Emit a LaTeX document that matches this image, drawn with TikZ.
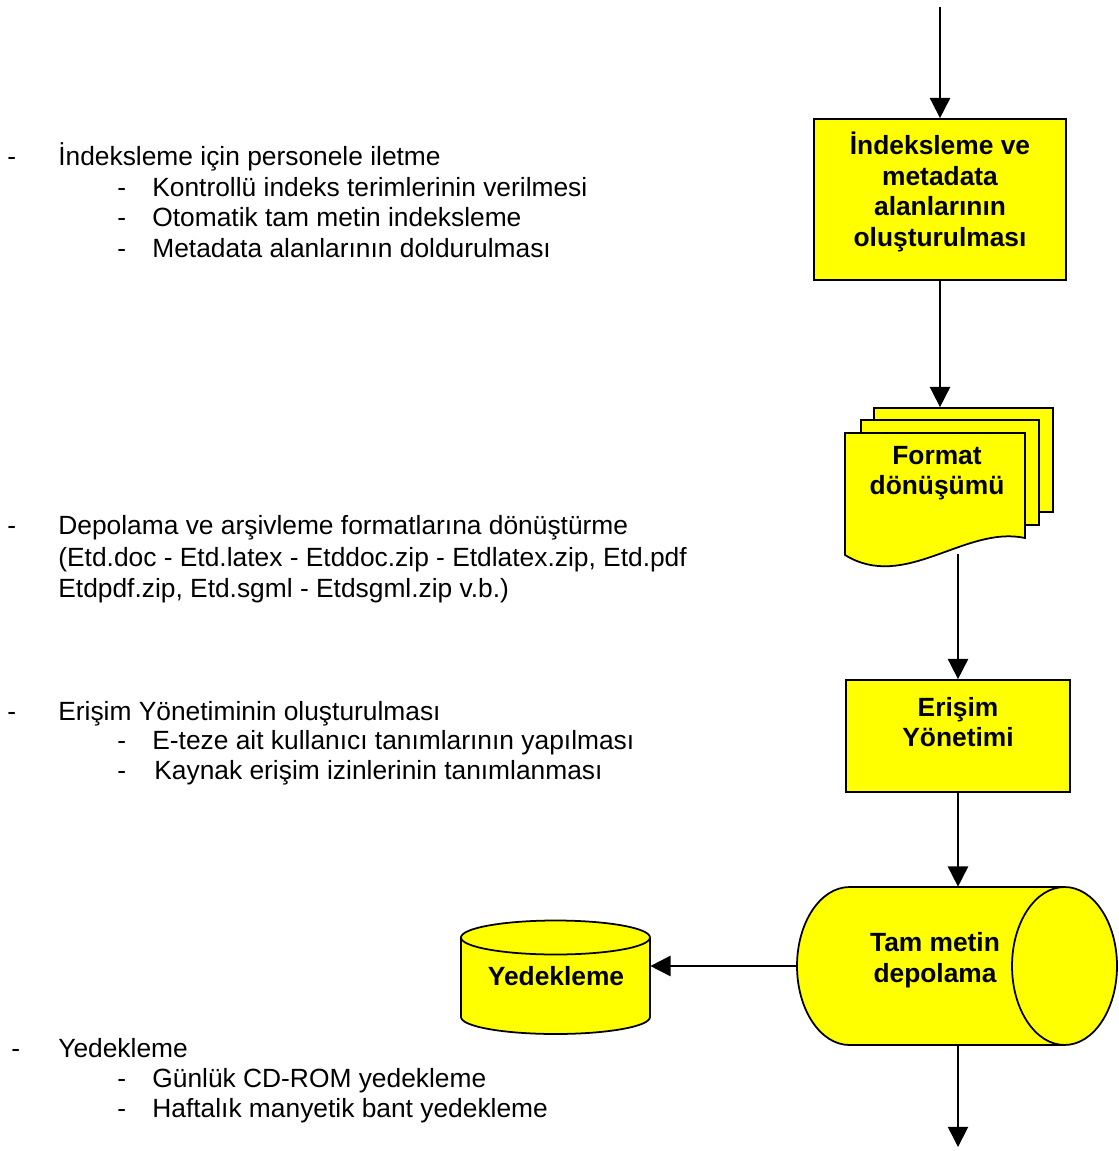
\documentclass[tikz,border=0pt]{standalone}
\usepackage{fontspec}
\setmainfont{Liberation Sans}
\usetikzlibrary{arrows.meta}
\usetikzlibrary{positioning}
\definecolor{boxyellow}{RGB}{255,255,0}

\begin{document}
\begin{tikzpicture}[
    x=0.02cm, y=-0.02cm,
    >={Triangle[length=11.5pt, width=11.5pt]},
    box/.style={draw, fill=boxyellow, line width=1pt},
    page/.style={draw, fill=boxyellow, line width=1pt, inner sep=0pt},
    shell/.style={fill=boxyellow, draw, line width=1pt},
    hull/.style={inner sep=0pt},
    boxtext/.style={align=center, font=\fontsize{15}{17.4}\selectfont\bfseries},
    item/.style={anchor=base west, inner sep=0pt, font=\fontsize{15}{17.4}\selectfont},
    flow/.style={->, line width=1pt}
]
    \useasboundingbox (0,0) rectangle (1118,1151);

    % right column: flow chart
    \coordinate (start) at (940,7);
    \node[box, minimum width=5.04cm, minimum height=3.22cm] (idx) at (940,199.5) {};
    \node[boxtext] (idxtxt) at (940,192) {İndeksleme ve\\metadata\\alanlarının\\oluşturulması};

    % stacked pages
    \node[page, minimum width=3.58cm, minimum height=2.08cm] (pg3) at (963.5,460) {};
    \node[page, minimum width=3.56cm, minimum height=2.1cm] (pg2) at (950,472.5) {};
    \draw[shell] (845,433) -- (1025,433) -- (1025,538)
        .. controls (965,525) and (905,592) .. (845,555) -- cycle;
    \node[boxtext] (fmt) at (937,473) {Format\\dönüşümü};
    \coordinate (fmtout) at (958,554);

    \node[box, minimum width=4.48cm, minimum height=2.24cm] (erisim) at (958,736) {};
    \node[boxtext] (erisimtxt) at (958,722) {Erişim\\Yönetimi};

    % full-text store (lying drum)
    \node[hull, minimum width=6.4cm, minimum height=3.16cm] (tam) at (957.5,966) {};
    \draw[shell] (849.5,887) -- (1064.5,887)
        arc[start angle=90, end angle=-90, x radius=1.05cm, y radius=1.58cm]
        -- (849.5,1045)
        arc[start angle=270, end angle=90, x radius=1.05cm, y radius=1.58cm] -- cycle;
    \draw[line width=1pt] (1064.5,887)
        arc[start angle=90, end angle=270, x radius=1.05cm, y radius=1.58cm];
    \node[boxtext] (tamtxt) at (935,960) {Tam metin\\depolama};

    % backup store (standing drum)
    \node[hull, minimum width=3.78cm, minimum height=2.3cm] (yedek) at (555.5,977.5) {};
    \draw[shell] (461,937.5) -- (461,1017)
        arc[start angle=180, end angle=360, x radius=1.89cm, y radius=0.34cm]
        -- (650,937.5)
        arc[start angle=0, end angle=180, x radius=1.89cm, y radius=0.34cm] -- cycle;
    \draw[line width=1pt] (461,937.5)
        arc[start angle=180, end angle=360, x radius=1.89cm, y radius=0.34cm];
    \node[boxtext] (yedektxt) at (556,976) {Yedekleme};

    \coordinate (end) at (958,1147);

    \draw[flow] (start) -- (idx.north);
    \draw[flow] (idx.south) -- (idx.south |- pg3.north);
    \draw[flow] (fmtout) -- (erisim.north);
    \draw[flow] (erisim.south) -- (erisim.south |- tam.north);
    \draw[flow] (tam.west) -- (tam.west -| yedek.east);
    \draw[flow] (erisim.south |- tam.south) -- (end);

    % left column: notes
    \node[item] (d1) at (7,166) {-};
    \node[item] (t1) at (58,166) {İndeksleme için personele iletme};
    \node[item] (d1a) at (117,197) {-};
    \node[item] (t1a) at (152,197) {Kontrollü indeks terimlerinin verilmesi};
    \node[item] (d1b) at (117,227) {-};
    \node[item] (t1b) at (152,227) {Otomatik tam metin indeksleme};
    \node[item] (d1c) at (117,258) {-};
    \node[item] (t1c) at (152,258) {Metadata alanlarının doldurulması};

    \node[item] (d2) at (7,534) {-};
    \node[item] (t2) at (58,534) {Depolama ve arşivleme formatlarına dönüştürme};
    \node[item] (t2a) at (58,566) {(Etd.doc - Etd.latex - Etddoc.zip - Etdlatex.zip, Etd.pdf};
    \node[item] (t2b) at (58,597) {Etdpdf.zip, Etd.sgml - Etdsgml.zip v.b.)};

    \node[item] (d3) at (7,720) {-};
    \node[item] (t3) at (58,720) {Erişim Yönetiminin oluşturulması};
    \node[item] (d3a) at (117,749) {-};
    \node[item] (t3a) at (152,749) {E-teze ait kullanıcı tanımlarının yapılması};
    \node[item] (d3b) at (117,779) {-};
    \node[item] (t3b) at (154,779) {Kaynak erişim izinlerinin tanımlanması};

    \node[item] (d4) at (11,1057) {-};
    \node[item] (t4) at (58,1057) {Yedekleme};
    \node[item] (d4a) at (117,1087) {-};
    \node[item] (t4a) at (152,1087) {Günlük CD-ROM yedekleme};
    \node[item] (d4b) at (117,1117) {-};
    \node[item] (t4b) at (152,1117) {Haftalık manyetik bant yedekleme};
\end{tikzpicture}
\end{document}
